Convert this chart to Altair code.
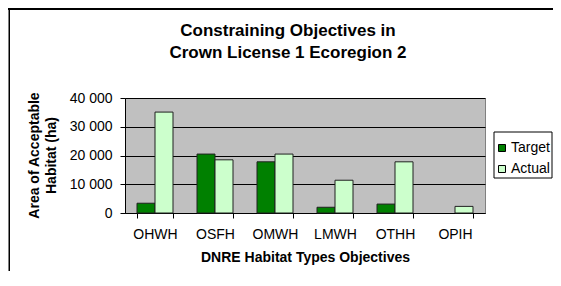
import altair as alt
import pandas as pd

categories = ["OHWH", "OSFH", "OMWH", "LMWH", "OTHH", "OPIH"]
target = [3400, 20500, 17800, 2000, 3100, 0]
actual = [35100, 18500, 20500, 11400, 17800, 2300]
series = ["Target", "Actual"]
colors = ["#008000", "#CCFFCC"]
title_lines = ["Constraining Objectives in", "Crown License 1 Ecoregion 2"]

rows = []
for c, t, a in zip(categories, target, actual):
    rows.append({"cat": c, "series": "Target", "value": t})
    rows.append({"cat": c, "series": "Actual", "value": a})
df = pd.DataFrame(rows)
one = pd.DataFrame({"k": [0]})

FONT = "Liberation Sans"

bars = alt.Chart(df).mark_bar(stroke="#202020", strokeWidth=1).encode(
    x=alt.X("cat:N", sort=categories,
            scale=alt.Scale(paddingInner=0.4, paddingOuter=0.2),
            axis=alt.Axis(title="DNRE Habitat Types Objectives", labelAngle=0,
                          tickBand="extent", tickSize=5, labelPadding=9,
                          titlePadding=9, domainColor="black", tickColor="black",
                          labelFontSize=14, titleFontSize=14, titleFontWeight="bold",
                          labelFont=FONT, titleFont=FONT, labelColor="black", titleColor="black")),
    xOffset=alt.XOffset("series:N", sort=series),
    y=alt.Y("value:Q", scale=alt.Scale(domain=[0, 40000]),
            axis=alt.Axis(values=[0, 10000, 20000, 30000, 40000],
                          labelExpr="datum.value == 0 ? '0' : floor(datum.value/1000) + ' 000'",
                          title=["Area of Acceptable", "Habitat (ha)"],
                          titleAngle=-90, titleX=-98, titleY=57, titleAlign="center",
                          titleBaseline="top", titleLineHeight=17,
                          tickSize=5, labelPadding=8, domainColor="black", tickColor="black",
                          gridColor="black", gridWidth=1,
                          labelFontSize=14, titleFontSize=14, titleFontWeight="bold",
                          labelFont=FONT, titleFont=FONT, labelColor="black", titleColor="black")),
    color=alt.Color("series:N", sort=series,
                    scale=alt.Scale(domain=series, range=colors),
                    legend=alt.Legend(title=None, orient="none", legendX=370, legendY=43,
                                      symbolType="square", symbolSize=49,
                                      symbolStrokeColor="black", symbolStrokeWidth=1,
                                      labelFontSize=14, labelFont=FONT, labelColor="black",
                                      padding=0, rowPadding=7, labelOffset=2)),
    strokeOpacity=alt.condition("datum.value > 0", alt.value(1), alt.value(0)),
)

legend_box = alt.Chart(one).mark_rect(fill="white", stroke="black", strokeWidth=1).encode(
    x=alt.value(369), x2=alt.value(427), y=alt.value(34), y2=alt.value(80))

t1 = alt.Chart(one).mark_text(font=FONT, fontSize=17, fontWeight="bold", color="black",
                              align="center", baseline="middle").encode(
    x=alt.value(163), y=alt.value(-67), text=alt.value(title_lines[0]))
t2 = alt.Chart(one).mark_text(font=FONT, fontSize=17, fontWeight="bold", color="black",
                              align="center", baseline="middle").encode(
    x=alt.value(163), y=alt.value(-45), text=alt.value(title_lines[1]))

top_line = alt.Chart(one).mark_rect(fill="black", strokeWidth=0).encode(
    x=alt.value(-117), x2=alt.value(436), y=alt.value(-90), y2=alt.value(-88))
left_line = alt.Chart(one).mark_rect(fill="black", strokeWidth=0).encode(
    x=alt.value(-116.5), x2=alt.value(-115), y=alt.value(-90), y2=alt.value(175))

chart = alt.layer(bars, legend_box, t1, t2, top_line, left_line).properties(
    width=360, height=115,
    autosize=alt.AutoSizeParams(type="none"),
    padding={"left": 117, "top": 90, "right": 68, "bottom": 58},
    background="white",
).configure_view(fill="#C0C0C0", stroke="#808080", strokeWidth=1)

chart.save("out.html", embed_options={"renderer": "svg", "actions": False})
